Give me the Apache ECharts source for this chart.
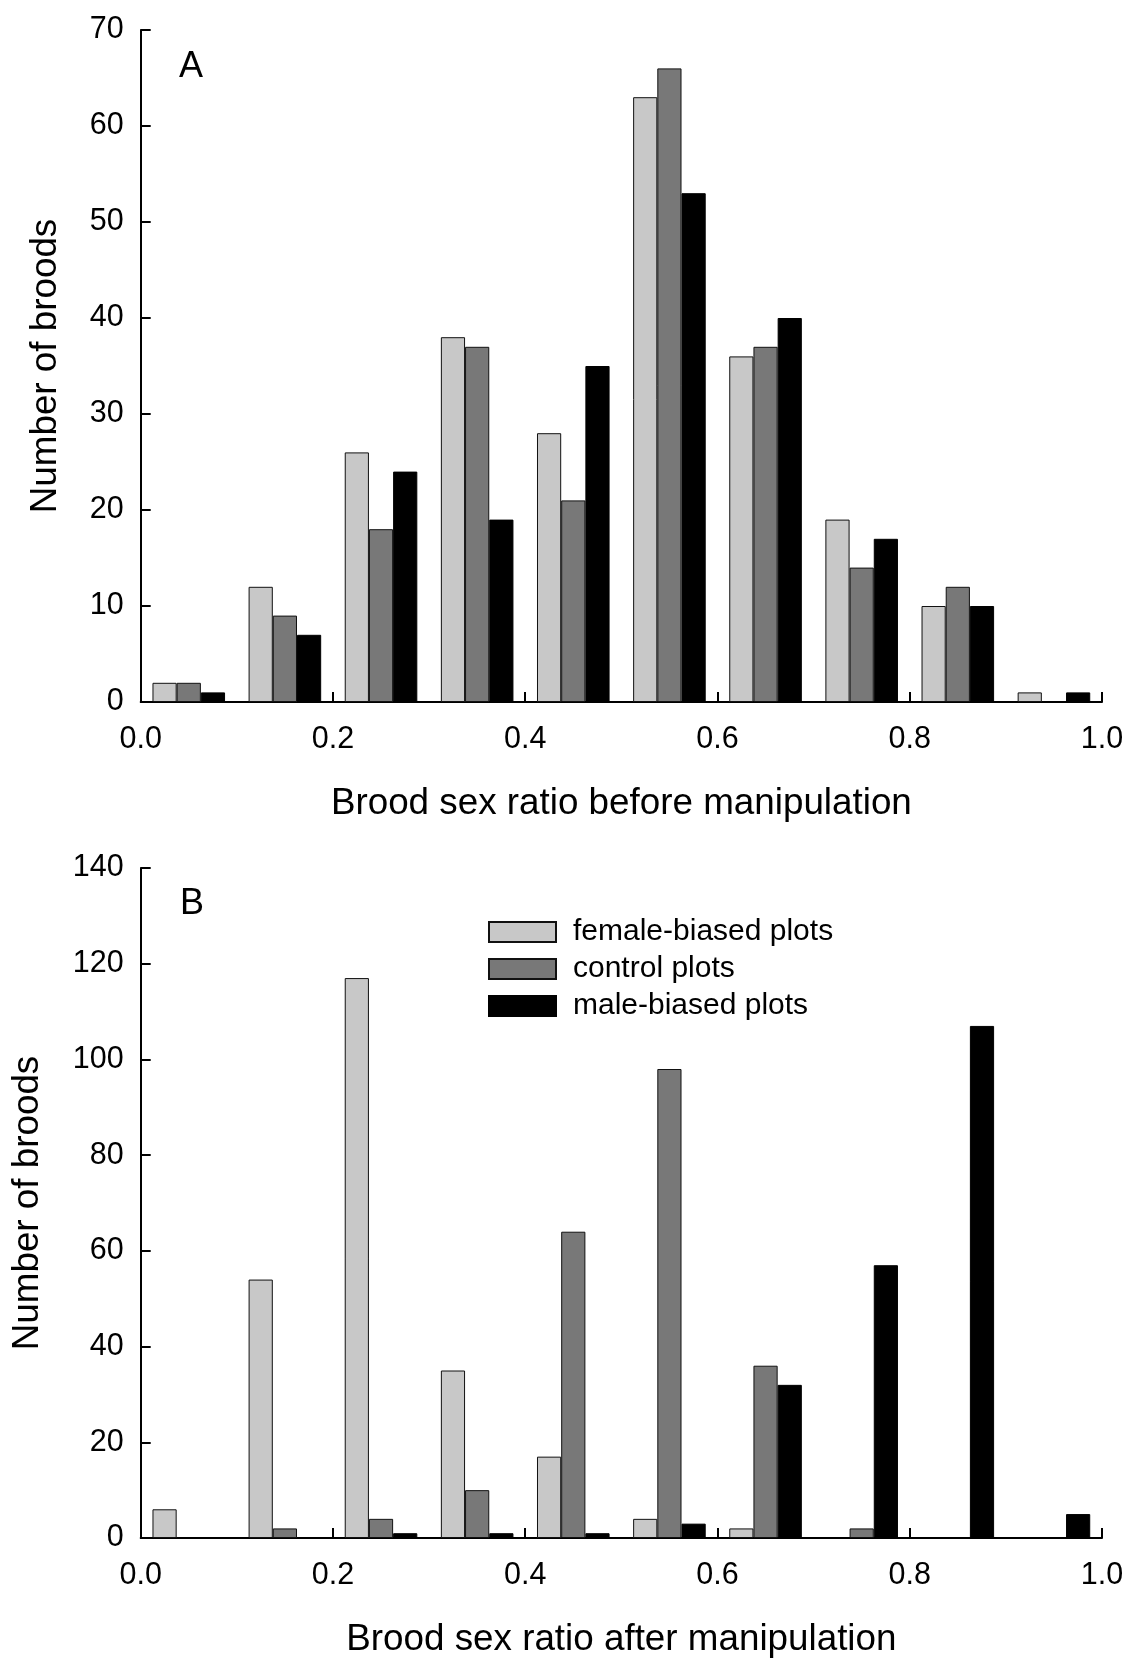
<!DOCTYPE html>
<html>
<head>
<meta charset="utf-8">
<script src="https://cdn.jsdelivr.net/npm/echarts@6/dist/echarts.min.js"></script>
<style>
html,body{margin:0;padding:0;background:#fff;}
#chart{width:1128px;height:1659px;}
</style>
</head>
<body>
<div id="chart"></div>
<script>
// Sex-ratio bins (0.1 wide)
const categories = ['0.0-0.1','0.1-0.2','0.2-0.3','0.3-0.4','0.4-0.5','0.5-0.6','0.6-0.7','0.7-0.8','0.8-0.9','0.9-1.0'];
const seriesNames = ['female-biased plots','control plots','male-biased plots'];

// Panel A: brood sex ratio before manipulation
const beforeFemale  = [2, 12, 26, 38, 28, 63, 36, 19, 10, 1];
const beforeControl = [2,  9, 18, 37, 21, 66, 37, 14, 12, 0];
const beforeMale    = [1,  7, 24, 19, 35, 53, 40, 17, 10, 1];

// Panel B: brood sex ratio after manipulation
const afterFemale  = [6, 54, 117, 35, 17,  4,  2,  0,   0, 0];
const afterControl = [0,  2,   4, 10, 64, 98, 36,  2,   0, 0];
const afterMale    = [0,  0,   1,  1,  1,  3, 32, 57, 107, 5];

// Axis ticks
const xTickInterval = 0.2;
const yAInterval = 10, yAMax = 70;
const yBInterval = 20, yBMax = 140;

const FONT = '"Liberation Sans", Arial, sans-serif';
const colors = ['#c8c8c8', '#787878', '#000000'];
const borderColors = ['#111111', '#111111', '#000000'];

const chart = echarts.init(document.getElementById('chart'));

function catAxis(gridIndex) {
  return {
    type: 'category', gridIndex, data: categories, position: 'bottom',
    axisLine: {show: true, lineStyle: {color: '#000', width: 2}},
    axisTick: {show: false}, axisLabel: {show: false}, splitLine: {show: false}
  };
}
function valXAxis(gridIndex, name) {
  return {
    type: 'value', gridIndex, min: 0, max: 1, interval: xTickInterval, position: 'bottom',
    axisLine: {show: false},
    axisTick: {show: true, inside: true, length: 10, lineStyle: {color: '#000', width: 2}},
    axisLabel: {show: true, margin: 22, fontSize: 30.5, fontFamily: FONT, color: '#000',
      formatter: v => v.toFixed(1)},
    splitLine: {show: false},
    name, nameLocation: 'middle', nameGap: 83,
    nameTextStyle: {fontSize: 36.8, fontFamily: FONT, color: '#000'}
  };
}
function yAxis(gridIndex, max, interval, nameGap) {
  return {
    type: 'value', gridIndex, min: 0, max, interval,
    axisLine: {show: true, lineStyle: {color: '#000', width: 2}},
    axisTick: {show: true, inside: true, length: 10, lineStyle: {color: '#000', width: 2}},
    axisLabel: {margin: 17, fontSize: 30.5, fontFamily: FONT, color: '#000'},
    splitLine: {show: false},
    name: 'Number of broods', nameLocation: 'middle', nameGap,
    nameTextStyle: {fontSize: 36.8, fontFamily: FONT, color: '#000'}
  };
}
function bars(values, idx, axisIdx) {
  return {
    name: seriesNames[idx], type: 'bar',
    data: values.map(v => v === 0 ? {value: v, itemStyle: {borderWidth: 0}} : v),
    xAxisIndex: axisIdx, yAxisIndex: axisIdx === 0 ? 0 : 1,
    barGap: '0%', barCategoryGap: '24.5%',
    itemStyle: {color: colors[idx], borderColor: borderColors[idx], borderWidth: 1},
    emphasis: {disabled: true}
  };
}

const option = {
  backgroundColor: '#fff',
  animation: false,
  grid: [
    {left: 140.7, right: 26, top: 30, height: 672},
    {left: 140.7, right: 26, top: 868, height: 672.3}
  ],
  xAxis: [
    catAxis(0), catAxis(1),
    valXAxis(0, 'Brood sex ratio before manipulation'),
    valXAxis(1, 'Brood sex ratio after manipulation')
  ],
  yAxis: [yAxis(0, yAMax, yAInterval, 76), yAxis(1, yBMax, yBInterval, 94)],
  legend: {
    orient: 'vertical', left: 488, top: 917, padding: 0,
    itemWidth: 67, itemHeight: 20, itemGap: 7,
    icon: 'rect', data: seriesNames,
    textStyle: {fontSize: 30, fontFamily: FONT, color: '#000', padding: [0, 0, 0, 12]}
  },
  graphic: [
    {type: 'text', left: 179, top: 49, style: {text: 'A', fontSize: 36, fontFamily: FONT, fill: '#000'}},
    {type: 'text', left: 180, top: 886, style: {text: 'B', fontSize: 36, fontFamily: FONT, fill: '#000'}}
  ],
  series: [
    bars(beforeFemale, 0, 0), bars(beforeControl, 1, 0), bars(beforeMale, 2, 0),
    bars(afterFemale, 0, 1), bars(afterControl, 1, 1), bars(afterMale, 2, 1)
  ]
};
chart.setOption(option);
</script>
</body>
</html>
